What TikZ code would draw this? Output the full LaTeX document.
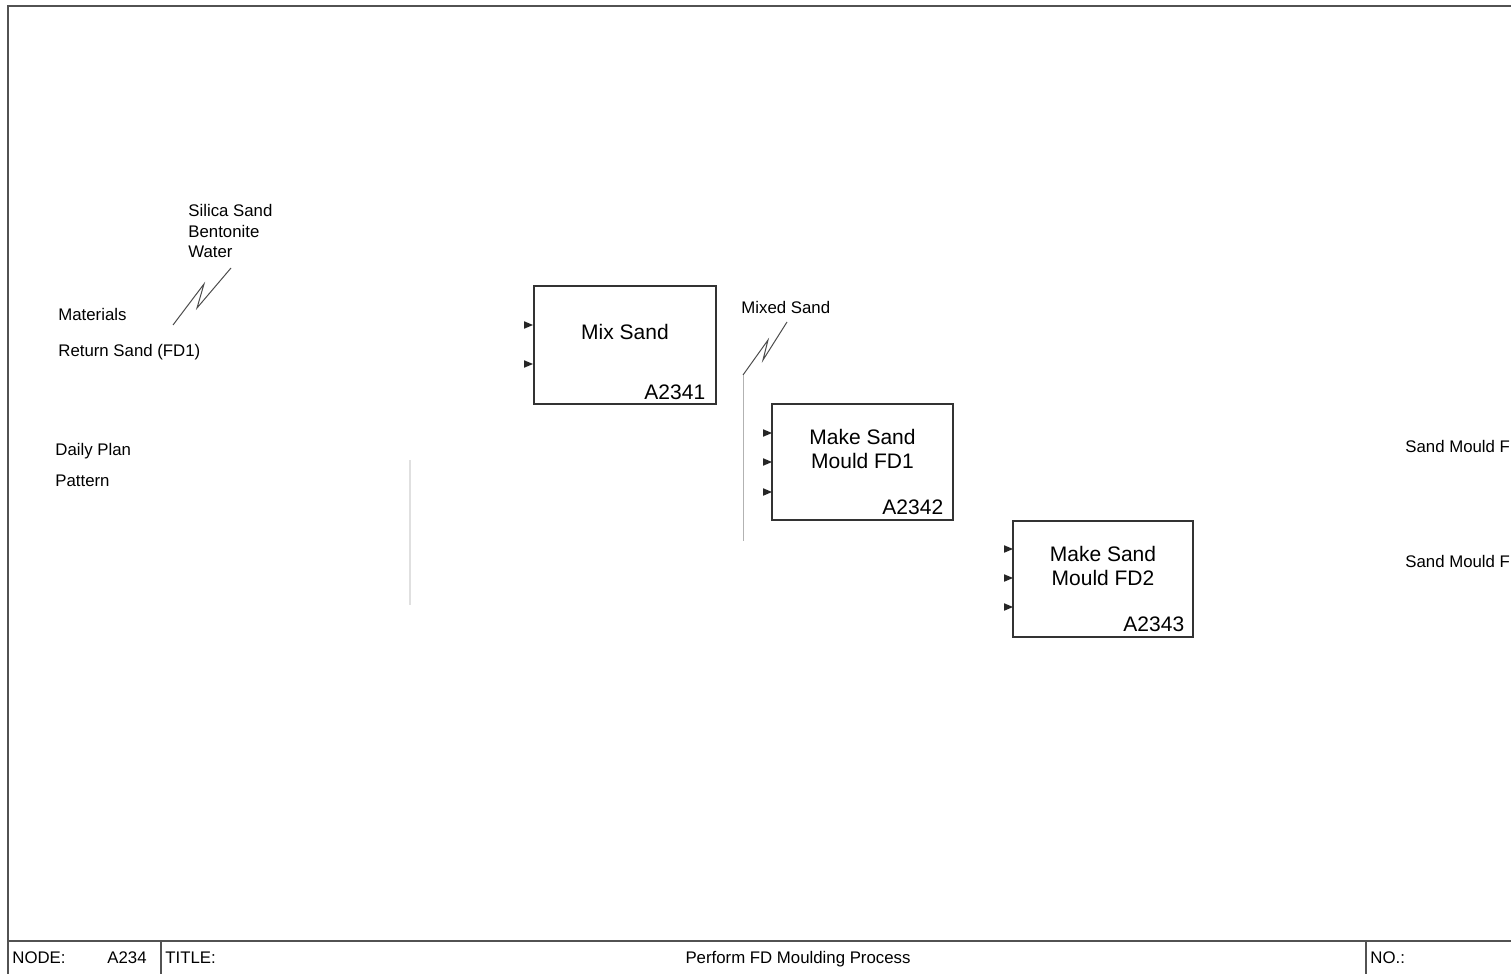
\documentclass[tikz,border=0pt]{standalone}
\usepackage{fontspec}
\setmainfont{Liberation Sans}
\newcommand\inputhead[1]{\fill[headfill] (#1) -- ++(-9,-3.8) -- ++(0,7.6) -- cycle;}
\begin{document}
\begin{tikzpicture}[x=0.5pt,y=-0.5pt,
  frameline/.style={draw=black!68,line width=0.75pt},
  actbox/.style={draw=black!80,line width=0.6pt,rectangle,inner sep=0pt},
  boxtitle/.style={font=\fontsize{10.5}{12}\selectfont,align=center,inner sep=0pt},
  boxid/.style={font=\fontsize{10.5}{12}\selectfont,inner sep=0pt,anchor=base east},
  lbl/.style={font=\fontsize{8.4}{9.75}\selectfont,inner sep=0pt,anchor=base west},
  headfill/.style={fill=black!85},
  squig/.style={draw=black!70,line width=0.5pt,line join=miter},
]
\useasboundingbox (0,0) rectangle (1511,974);

% sheet frame and title block
\draw[frameline] (1511,6) -- (8,6) -- (8,974);
\draw[frameline] (8,941) -- (1511,941);
\draw[frameline] (161,941) -- (161,974);
\draw[frameline] (1366,941) -- (1366,974);
\node[lbl] (nodelbl) at (12,963) {NODE:};
\node[lbl] (nodeval) at (107,963) {A234};
\node[lbl] (titlelbl) at (165,963) {TITLE:};
\node[lbl,anchor=base] (titleval) at (798,963) {Perform FD Moulding Process};
\node[lbl] (nolbl) at (1370,963) {NO.:};

% activity boxes
\node[actbox,minimum width=91pt,minimum height=59pt] (mix) at (625,345) {};
\node[boxtitle] (mixT) at ([yshift=6.5pt]mix.center) {Mix Sand};
\node[boxid] (mixN) at ([xshift=-5.5pt,yshift=2.75pt]mix.south east) {A2341};

\node[actbox,minimum width=90.5pt,minimum height=58pt] (fd1) at (862.5,462) {};
\node[boxtitle] (fd1T) at ([yshift=6.5pt]fd1.center) {Make Sand\\Mould FD1};
\node[boxid] (fd1N) at ([xshift=-5pt,yshift=3pt]fd1.south east) {A2342};

\node[actbox,minimum width=90pt,minimum height=58pt] (fd2) at (1103,579) {};
\node[boxtitle] (fd2T) at ([yshift=6.5pt]fd2.center) {Make Sand\\Mould FD2};
\node[boxid] (fd2N) at ([xshift=-4.5pt,yshift=3pt]fd2.south east) {A2343};

% input arrow heads
\coordinate (mixI1) at (533,325);
\coordinate (mixI2) at (533,364);
\coordinate (fd1I1) at (772,433);
\coordinate (fd1I2) at (772,462);
\coordinate (fd1I3) at (772,492);
\coordinate (fd2I1) at (1013,549);
\coordinate (fd2I2) at (1013,578);
\coordinate (fd2I3) at (1013,607);
\foreach \p in {mixI1,mixI2,fd1I1,fd1I2,fd1I3,fd2I1,fd2I2,fd2I3} {\inputhead{\p}}

% arrow labels
\node[lbl] (silica) at (188,217) {Silica Sand};
\node[lbl] (bento) at (188,237) {Bentonite};
\node[lbl] (water) at (188,257) {Water};
\node[lbl] (materials) at (58,320) {Materials};
\node[lbl] (retsand) at (58,356) {Return Sand (FD1)};
\node[lbl] (daily) at (55,455) {Daily Plan};
\node[lbl] (pattern) at (55,486) {Pattern};
\node[lbl] (mixed) at (741,313) {Mixed Sand};
\node[lbl] (out1) at (1405,452) {Sand Mould F};
\node[lbl] (out2) at (1405,567) {Sand Mould F};

% squiggles tying labels to their arrows
\coordinate (sqA) at (173,325);
\coordinate (sqB) at (231,268);
\draw[squig] (sqA) -- (204,284) -- (197,308) -- (sqB);
\coordinate (sqC) at (743,375);
\coordinate (sqD) at (787,322);
\draw[squig] (sqC) -- (768,340) -- (763,360) -- (sqD);

% faint branch lines
\coordinate (mixedEnd) at (743,541);
\draw[draw=black!30,line width=0.35pt] (sqC) -- (mixedEnd);
\draw[draw=black!12,line width=0.8pt] (410,460) -- (410,605);
\end{tikzpicture}
\end{document}
